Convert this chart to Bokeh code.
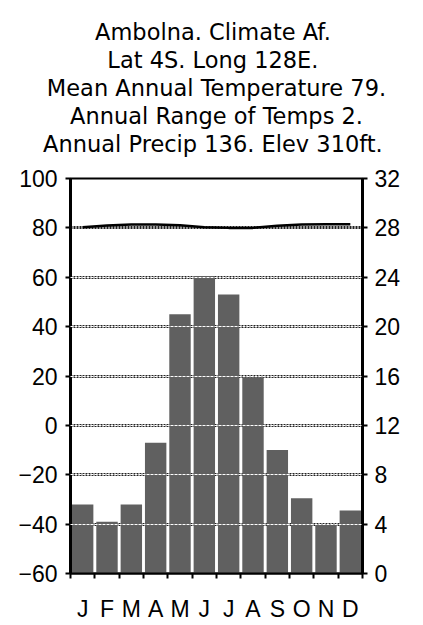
from bokeh.plotting import figure
from bokeh.models import Range1d, LinearAxis, FixedTicker, Title, Grid, ColumnDataSource
from bokeh.embed import file_html
from bokeh.resources import INLINE

months = ["J", "F", "M", "A", "M", "J", "J", "A", "S", "O", "N", "D"]
month_pos = [1, 2, 3, 4, 5, 6, 7, 8, 9, 10, 11, 12]
precip = [5.6, 4.2, 5.6, 10.6, 21.0, 24.1, 22.6, 15.9, 10.0, 6.1, 4.0, 5.1]
temp = [80.3, 81.0, 81.4, 81.4, 81.1, 80.3, 80.0, 80.0, 80.9, 81.4, 81.5, 81.5]
temp_ticks = [-60, -40, -20, 0, 20, 40, 60, 80, 100]
precip_ticks = [0, 4, 8, 12, 16, 20, 24, 28, 32]
title_lines = [
    "Ambolna.  Climate Af.",
    "Lat 4S.  Long 128E.",
    "Mean Annual Temperature 79.",
    "Annual Range of Temps 2.",
    "Annual Precip 136.  Elev 310ft.",
]

FONT = "Liberation Sans"

p = figure(width=423, height=625, x_range=Range1d(0.5, 12.5), y_range=Range1d(-60, 100),
           output_backend="svg", toolbar_location=None, title=None,
           min_border_left=70, min_border_right=61, min_border_bottom=52, min_border_top=178)
p.extra_y_ranges = {"precip": Range1d(0, 32)}

# spacer between the frame and the title block
p.add_layout(Title(text=" ", text_font_size="17.5px", standoff=0), "above")
# titles (added from the frame outward)
for line in reversed(title_lines):
    t = Title(text=line, align="center", text_font="DejaVu Sans", text_font_size="22.5px",
              text_font_style="normal", text_color="black", standoff=0)
    p.add_layout(t, "above")

src = ColumnDataSource(dict(x=month_pos, top=precip))
p.vbar(x="x", top="top", bottom=0, width=0.88, source=src, y_range_name="precip",
       fill_color="#606060", line_color=None)

p.line(month_pos, temp, line_color="black", line_width=2.5)

# grids
grid_ticks = [-40, -20, 0, 20, 40, 60, 80]
p.xgrid.visible = False
p.ygrid.ticker = FixedTicker(ticks=grid_ticks)
p.ygrid.grid_line_color = "#222222"
p.ygrid.grid_line_width = 3
p.ygrid.grid_line_dash = "2 1"
white_grid = Grid(dimension=1, ticker=FixedTicker(ticks=[-40, -20, 0, 20, 40, 60]),
                  grid_line_color="white", grid_line_width=1, grid_line_dash="3 1",
                  level="overlay")
p.add_layout(white_grid)

p.outline_line_color = "black"
p.outline_line_width = 2
p.background_fill_color = "white"
p.border_fill_color = "white"

# left axis
ly = p.yaxis[0]
ly.ticker = FixedTicker(ticks=temp_ticks)
ly.axis_line_width = 3
ly.axis_line_color = "black"
ly.major_tick_out = 5
ly.major_tick_in = 0
ly.major_tick_line_width = 2
ly.minor_tick_line_color = None
ly.major_label_standoff = 8
ly.major_label_text_font = FONT
ly.major_label_text_font_size = "23px"
ly.major_label_text_color = "black"

# right axis
ry = LinearAxis(y_range_name="precip", ticker=FixedTicker(ticks=precip_ticks))
ry.axis_line_width = 3
ry.axis_line_color = "black"
ry.major_tick_out = 5
ry.major_tick_in = 0
ry.major_tick_line_width = 2
ry.minor_tick_line_color = None
ry.major_label_standoff = 7
ry.major_label_text_font = FONT
ry.major_label_text_font_size = "23px"
ry.major_label_text_color = "black"
p.add_layout(ry, "right")

# bottom axis
bx = p.xaxis[0]
bx.ticker = FixedTicker(ticks=month_pos, minor_ticks=[m - 0.5 for m in month_pos] + [12.5])
bx.major_label_overrides = {m: lab for m, lab in zip(month_pos, months)}
bx.major_tick_line_color = None
bx.minor_tick_out = 5
bx.minor_tick_in = 0
bx.minor_tick_line_width = 2
bx.minor_tick_line_color = "black"
bx.axis_line_width = 2
bx.axis_line_color = "black"
bx.major_label_standoff = 16
bx.major_label_text_font = FONT
bx.major_label_text_font_size = "23px"
bx.major_label_text_color = "black"

open("out.html", "w").write(file_html(p, INLINE))
